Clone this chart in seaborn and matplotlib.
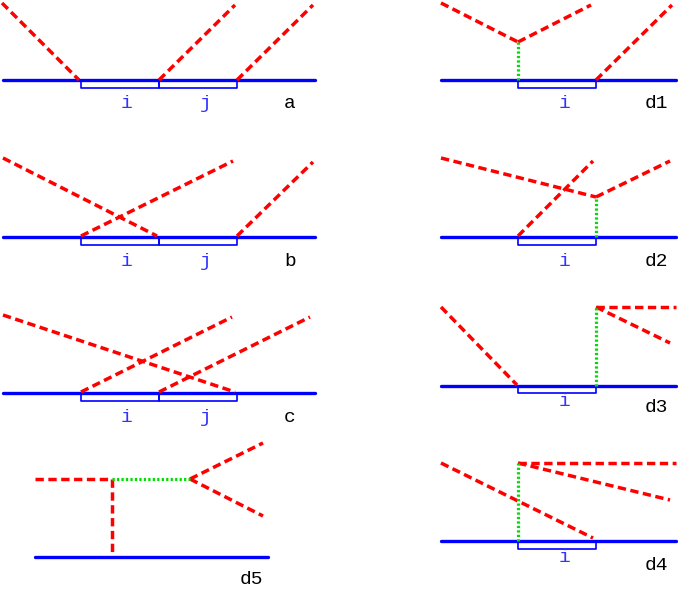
import matplotlib
matplotlib.use("Agg")
import matplotlib.pyplot as plt
import seaborn as sns
import pandas as pd

sns.set_theme(style="white")
plt.rcParams['font.family'] = ['Liberation Mono', 'DejaVu Sans']

# ---- data: segment endpoints (x0, y0, x1, y1) in picture units ----
surface_lines = [  # blue substrate lines
    (3, 80, 315, 80), (3, 237, 315, 237), (3, 393, 315, 393), (35, 557, 268, 557),
    (441, 80, 676, 80), (441, 237, 676, 237), (441, 386, 676, 386), (441, 541, 676, 541),
]
cell_boxes = [  # (x_left, x_right, y_top, y_bottom)
    (81, 159, 80, 88), (159, 237, 80, 88),
    (81, 159, 237, 245), (159, 237, 237, 245),
    (81, 159, 393, 401), (159, 237, 393, 401),
    (518, 596, 80, 88), (518, 596, 237, 245),
    (518, 596, 386, 393), (518, 596, 541, 549),
]
red_rays = [
    # a
    (2, 3, 79, 80), (159, 80, 235, 5), (237, 80, 313, 5),
    # b
    (3, 158, 157, 236), (81, 236, 233, 161), (237, 236, 313, 162),
    # c
    (3, 315, 235, 392), (81, 392, 232, 317), (159, 392, 310, 317),
    # d5
    (35, 479, 112, 479), (112, 479, 112, 556), (190, 479, 263, 443), (190, 479, 263, 516),
    # d1
    (441, 3, 518, 42), (518, 42, 591, 5), (596, 80, 672, 5),
    # d2
    (441, 158, 596, 197), (596, 197, 670, 161), (518, 236, 593, 161),
    # d3
    (441, 307, 517, 385), (596, 307, 676, 307), (596, 307, 670, 343),
    # d4
    (441, 463, 593, 538), (518, 463, 676, 463), (518, 463, 670, 500),
]
green_links = [
    (112, 479, 190, 479), (518, 80, 518, 42), (596, 237, 596, 197),
    (596, 386, 596, 307), (518, 541, 518, 463),
]
cell_labels = [  # (text, x, y)
    ("i", 127, 104), ("j", 206, 104), ("i", 127, 261), ("j", 206, 261),
    ("i", 127, 417), ("j", 206, 417), ("i", 564, 104), ("i", 564, 261),
    ("i", 564, 402), ("i", 564, 557),
]
panel_labels = [
    ("a", 290, 104), ("b", 290, 261), ("c", 290, 417), ("d5", 251, 580),
    ("d1", 656, 104), ("d2", 656, 261), ("d3", 656, 407), ("d4", 656, 565),
]


def seg_frame(segs):
    rows = []
    for k, (x0, y0, x1, y1) in enumerate(segs):
        rows.append({"seg": k, "order": 0, "x": x0, "y": y0})
        rows.append({"seg": k, "order": 1, "x": x1, "y": y1})
    return pd.DataFrame(rows)


def box_frame(boxes):
    rows = []
    for k, (xl, xr, yt, yb) in enumerate(boxes):
        pts = [(xl, yt), (xl, yb), (xr, yb), (xr, yt)]
        for o, (x, y) in enumerate(pts):
            rows.append({"seg": k, "order": o, "x": x, "y": y})
    return pd.DataFrame(rows)


fig = plt.figure(figsize=(6.78, 5.96), dpi=100)
ax = fig.add_axes([0, 0, 1, 1])

sns.lineplot(data=box_frame(cell_boxes), x="x", y="y", units="seg", estimator=None,
             sort=False, color="#0000ff", linewidth=1.2, ax=ax)
sns.lineplot(data=seg_frame(surface_lines), x="x", y="y", units="seg", estimator=None,
             sort=False, color="#0000ff", linewidth=2.4, ax=ax)
sns.lineplot(data=seg_frame(red_rays), x="x", y="y", units="seg", estimator=None,
             sort=False, color="#ff0000", linewidth=2.5, linestyle=(0, (2.4, 1.3)), ax=ax)
sns.lineplot(data=seg_frame(green_links), x="x", y="y", units="seg", estimator=None,
             sort=False, color="#00dd00", linewidth=2.3, linestyle=(0, (0.7, 0.7)), ax=ax)

for t, x, y in cell_labels:
    ax.text(x, y, t, color="#3333ff", fontsize=14, ha="center", va="center")
for t, x, y in panel_labels:
    ax.text(x, y, t, color="black", fontsize=14, ha="center", va="center")

ax.set_xlim(0, 678)
ax.set_ylim(596, 0)
ax.set_axis_off()
fig.savefig("out.png", dpi=100)
